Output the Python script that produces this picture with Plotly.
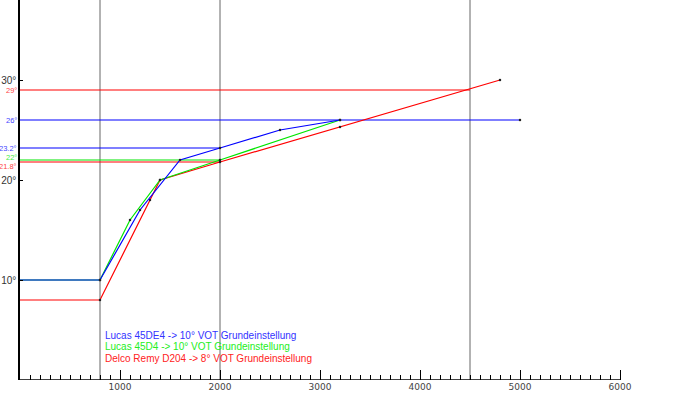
import plotly.graph_objects as go

# --- data ---
rpm_blue = [0, 800, 1200, 1600, 2000, 2600, 3200]
deg_blue = [10, 10, 17, 22, 23.2, 25, 26]
rpm_green = [0, 800, 1100, 1400, 2000, 3200]
deg_green = [10, 10, 16, 20, 22, 26]
rpm_red = [0, 800, 1300, 1400, 2000, 3200, 4800]
deg_red = [8, 8, 18, 20, 21.8, 25.3, 30]

ref_values = [29, 26, 23.2, 22, 21.8]
ref_ends = [4500, 5000, 2000, 2000, 2000]
ref_labels = ["29°", "26°", "23.2°", "22°", "21.8°"]
ref_label_shift = [0, 0, 0, 3, -4]
vert_rpm = [800, 2000, 4500]

x_ticks = [1000, 2000, 3000, 4000, 5000, 6000]
y_ticks = [10, 20, 30]
y_ticklabels = ["10°", "20°", "30°"]

legend_texts = [
    "Lucas 45DE4 -> 10° VOT Grundeinstellung",
    "Lucas 45D4 -> 10° VOT Grundeinstellung",
    "Delco Remy D204 -> 8° VOT Grundeinstellung",
]

BLUE = "#0000ff"
GREEN = "#00e600"
RED = "#ff0000"
ref_colors = [RED, BLUE, BLUE, GREEN, RED]
label_colors = ["#ff4444", "#4444ff", "#4444ff", "#44ee44", "#ff4444"]
legend_colors = ["#3333ff", "#22ee22", "#ff2222"]

fig = go.Figure()

for v in vert_rpm:
    fig.add_trace(go.Scatter(x=[v, v], y=[0, 38], mode="lines",
                             line=dict(color="#666666", width=1), hoverinfo="skip"))

for v, e, c in zip(ref_values, ref_ends, ref_colors):
    fig.add_trace(go.Scatter(x=[0, e], y=[v, v], mode="lines",
                             line=dict(color=c, width=1.2), hoverinfo="skip"))

for xs, ys, c in [(rpm_red, deg_red, RED), (rpm_green, deg_green, GREEN), (rpm_blue, deg_blue, BLUE)]:
    fig.add_trace(go.Scatter(x=xs, y=ys, mode="lines",
                             line=dict(color=c, width=1.2)))
    fig.add_trace(go.Scatter(x=xs[1:], y=ys[1:], mode="markers",
                             marker=dict(color="#222222", size=2.5)))

fig.add_trace(go.Scatter(x=[ref_ends[1]], y=[ref_values[1]], mode="markers",
                         marker=dict(color="#222222", size=2.5)))

# x axis line only up to 6000
fig.add_shape(type="line", x0=0, x1=6000, y0=0, y1=0, xref="x", yref="y",
              line=dict(color="black", width=1.5))

for v, t, c, s in zip(ref_values, ref_labels, label_colors, ref_label_shift):
    fig.add_annotation(x=0, y=v, text=t, showarrow=False, xanchor="right",
                       xshift=-1, yshift=s, yanchor="middle",
                       font=dict(family="Liberation Sans", size=7.5, color=c))

for i, (t, c) in enumerate(zip(legend_texts, legend_colors)):
    fig.add_annotation(x=830, y=4.5 - 1.15 * i, text=t, showarrow=False,
                       xanchor="left", yanchor="middle",
                       font=dict(family="Liberation Sans", size=10, color=c))

minor_vals = [v for v in range(100, 6000, 100) if v % 1000 != 0]

fig.update_layout(
    width=700, height=400,
    margin=dict(l=20, r=0, t=0, b=20),
    plot_bgcolor="white", paper_bgcolor="white",
    showlegend=False,
    xaxis=dict(range=[0, 6800], showgrid=False, zeroline=False, showline=False,
               automargin=False,
               tickmode="array", tickvals=x_ticks, ticks="inside", ticklen=10,
               tickcolor="black", tickwidth=1,
               tickfont=dict(family="DejaVu Sans", size=9, color="#444444"),
               minor=dict(tickmode="array", tickvals=minor_vals, ticks="inside",
                          ticklen=5, tickcolor="black", tickwidth=1)),
    yaxis=dict(range=[0, 38], showgrid=False, zeroline=False, showline=True,
               automargin=False,
               linecolor="black", linewidth=1.5,
               tickmode="array", tickvals=y_ticks, ticktext=y_ticklabels,
               ticks="inside", ticklen=3, tickcolor="black",
               tickfont=dict(family="Liberation Sans", size=10, color="#333333")),
)

fig.write_html("out.html", config={"displayModeBar": False},
               post_script="document.body.style.margin='0';document.body.style.overflow='hidden';")
